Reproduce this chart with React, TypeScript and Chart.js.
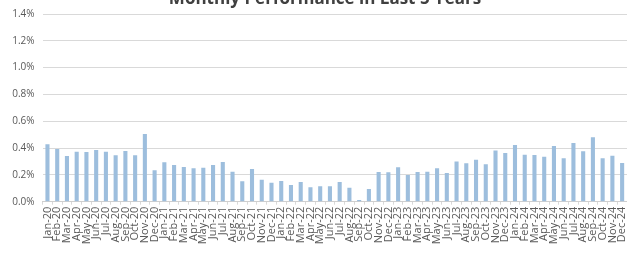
import React, { useEffect, useRef } from "react";
import { Chart, registerables } from "chart.js";

Chart.register(...registerables);

const months = [
  "Jan-20","Feb-20","Mar-20","Apr-20","May-20","Jun-20","Jul-20","Aug-20","Sep-20","Oct-20","Nov-20","Dec-20",
  "Jan-21","Feb-21","Mar-21","Apr-21","May-21","Jun-21","Jul-21","Aug-21","Sep-21","Oct-21","Nov-21","Dec-21",
  "Jan-22","Feb-22","Mar-22","Apr-22","May-22","Jun-22","Jul-22","Aug-22","Sep-22","Oct-22","Nov-22","Dec-22",
  "Jan-23","Feb-23","Mar-23","Apr-23","May-23","Jun-23","Jul-23","Aug-23","Sep-23","Oct-23","Nov-23","Dec-23",
  "Jan-24","Feb-24","Mar-24","Apr-24","May-24","Jun-24","Jul-24","Aug-24","Sep-24","Oct-24","Nov-24","Dec-24",
];

// monthly performance, in percent
const performance = [
  0.428, 0.393, 0.341, 0.373, 0.371, 0.386, 0.373, 0.346, 0.378, 0.346, 0.505, 0.234,
  0.294, 0.274, 0.259, 0.249, 0.253, 0.274, 0.296, 0.224, 0.152, 0.244, 0.164, 0.142,
  0.154, 0.125, 0.147, 0.107, 0.115, 0.115, 0.147, 0.104, 0.013, 0.095, 0.222, 0.219,
  0.257, 0.199, 0.222, 0.224, 0.249, 0.214, 0.299, 0.287, 0.313, 0.279, 0.381, 0.363,
  0.423, 0.351, 0.349, 0.336, 0.416, 0.324, 0.438, 0.376, 0.481, 0.324, 0.343, 0.289,
];

const titleText = "Monthly Performance in Last 5 Years";
const yMax = 1.4;
const yStep = 0.2;

const FONT = '"Open Sans", "DejaVu Sans", sans-serif';

const titlePlugin = {
  id: "cutTitle",
  afterDraw(chart: any) {
    const ctx = chart.ctx;
    ctx.save();
    ctx.font = `bold 17px ${FONT}`;
    ctx.fillStyle = "#404040";
    ctx.textAlign = "center";
    ctx.textBaseline = "alphabetic";
    ctx.fillText(titleText, 325, 4);
    ctx.restore();
  },
};

export default function App() {
  const ref = useRef<HTMLCanvasElement | null>(null);
  useEffect(() => {
    if (!ref.current) return;
    const chart = new Chart(ref.current, {
      type: "bar",
      data: {
        labels: months,
        datasets: [
          {
            data: performance,
            backgroundColor: "#9dbedd",
            barPercentage: 0.42,
            categoryPercentage: 1,
          },
        ],
      },
      plugins: [titlePlugin],
      options: {
        animation: false,
        responsive: false,
        devicePixelRatio: 1,
        layout: { padding: { top: 14, right: 0, left: 0, bottom: 0 } },
        plugins: {
          legend: { display: false },
          title: { display: false },
          tooltip: { enabled: false },
        },
        scales: {
          x: {
            offset: true,
            grid: {
              display: true,
              drawOnChartArea: false,
              drawTicks: true,
              tickLength: 3,
              color: "#d9d9d9",
              offset: true,
            },
            border: { display: true, color: "#cfcfcf" },
            ticks: {
              autoSkip: false,
              maxRotation: 90,
              minRotation: 90,
              padding: 2,
              color: "#595959",
              font: { family: FONT, size: 11 },
            },
            afterFit(scale: any) {
              scale.height = 55.3;
              scale.paddingLeft = 0;
              scale.paddingRight = 0;
            },
          },
          y: {
            min: 0,
            max: yMax,
            ticks: {
              stepSize: yStep,
              padding: 8,
              color: "#595959",
              font: { family: FONT, size: 10 },
              callback: (v: any) => Number(v).toFixed(1) + "%",
            },
            grid: { color: "#d9d9d9", drawTicks: false, lineWidth: 1 },
            border: { display: false },
            afterFit(scale: any) {
              scale.width = 42.6;
            },
          },
        },
      },
    });
    return () => chart.destroy();
  }, []);
  return (
    <div style={{ position: "fixed", left: 0, top: 0, width: 627, height: 257, background: "#fff" }}>
      <canvas ref={ref} width={627} height={257} style={{ width: 627, height: 257, display: "block" }} />
    </div>
  );
}
